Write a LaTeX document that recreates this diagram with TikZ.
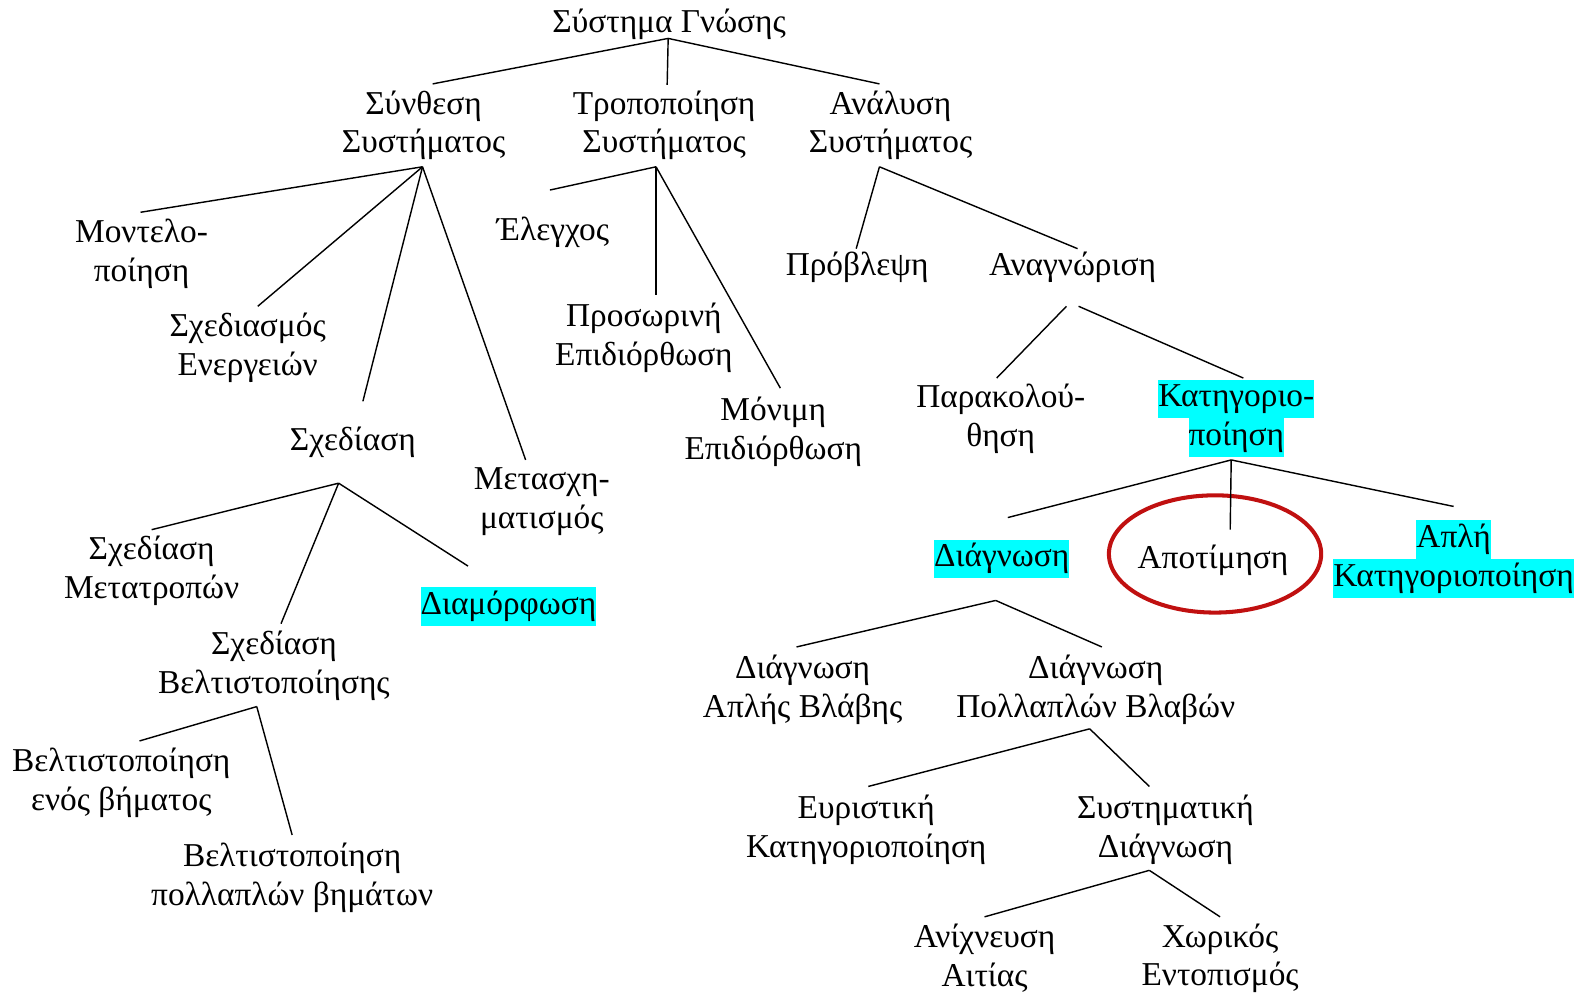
\documentclass[tikz,border=0pt]{standalone}
\usepackage{fontspec}
\setmainfont{Liberation Serif}
\definecolor{hlcyan}{RGB}{0,255,255}
\definecolor{ringred}{RGB}{192,16,16}
\newcommand\hlc[1]{{\setlength{\fboxsep}{0pt}\colorbox{hlcyan}{\strut #1}}}
\begin{document}
\begin{tikzpicture}[x=1pt,y=-1pt,
  lbl/.style={align=center,inner sep=0pt,yshift=-2pt,font=\fontsize{33}{38.5}\selectfont},
  edge/.style={line width=1.4pt,black},
  ring/.style={draw=ringred,line width=4pt}]
\useasboundingbox (0,0) rectangle (1568,985);
% nodes
\node[lbl] (root) at (662,22) {Σύστημα Γνώσης};
\node[lbl] (synth) at (419,122) {Σύνθεση\\Συστήματος};
\node[lbl] (trop) at (657,122) {Τροποποίηση\\Συστήματος};
\node[lbl] (anal) at (881,122) {Ανάλυση\\Συστήματος};
\node[lbl] (model) at (140,249) {Μοντελο-\\ποίηση};
\node[lbl] (sxedm) at (245,342) {Σχεδιασμός\\Ενεργειών};
\node[lbl] (sxed) at (349,436) {Σχεδίαση};
\node[lbl] (metas) at (536,494) {Μετασχη-\\ματισμός};
\node[lbl] (eleg) at (547,228) {Έλεγχος};
\node[lbl] (pros) at (637,332) {Προσωρινή\\Επιδιόρθωση};
\node[lbl] (mon) at (765,425) {Μόνιμη\\Επιδιόρθωση};
\node[lbl] (provl) at (848,262) {Πρόβλεψη};
\node[lbl] (anagn) at (1061,262) {Αναγνώριση};
\node[lbl] (parak) at (990,412) {Παρακολού-\\θηση};
\node[lbl] (kat) at (1223,412) {\hlc{Κατηγοριο-}\\\hlc{ποίηση}};
\node[lbl] (sxmet) at (150,563) {Σχεδίαση\\Μετατροπών};
\node[lbl] (diam) at (503,598) {\hlc{Διαμόρφωση}};
\node[lbl] (sxbelt) at (271,657) {Σχεδίαση\\Βελτιστοποίησης};
\node[lbl] (belt1) at (120,772) {Βελτιστοποίηση\\ενός βήματος};
\node[lbl] (beltn) at (289,866) {Βελτιστοποίηση\\πολλαπλών βημάτων};
\node[lbl] (diagn) at (991,551) {\hlc{Διάγνωση}};
\node[lbl] (apot) at (1200,552) {Αποτίμηση};
\node[lbl] (apli) at (1438,551) {\hlc{Απλή}\\\hlc{Κατηγοριοποίηση}};
\node[lbl] (dapl) at (794,680) {Διάγνωση\\Απλής Βλάβης};
\node[lbl] (dpoll) at (1084,680) {Διάγνωση\\Πολλαπλών Βλαβών};
\node[lbl] (eur) at (857,819) {Ευριστική\\Κατηγοριοποίηση};
\node[lbl] (syst) at (1153,819) {Συστηματική\\Διάγνωση};
\node[lbl] (anix) at (974,946) {Ανίχνευση\\Αιτίας};
\node[lbl] (xor) at (1207,946) {Χωρικός\\Εντοπισμός};
% ring around Αποτίμηση
\draw[ring] (1202,548) ellipse [x radius=105, y radius=58];
% connector points
\coordinate (root-b) at (661,38);
\coordinate (synth-t) at (428,83);
\coordinate (trop-t) at (660,84);
\coordinate (anal-t) at (870,83);
\coordinate (synth-b) at (418,165);
\coordinate (model-t) at (139,210);
\coordinate (sxedm-t) at (255,303);
\coordinate (sxed-t) at (359,397);
\coordinate (metas-t) at (520,455);
\coordinate (trop-b) at (649,165);
\coordinate (eleg-t) at (544,188);
\coordinate (pros-t) at (649,292);
\coordinate (mon-t) at (772,384);
\coordinate (anal-b) at (870,165);
\coordinate (provl-t) at (847,246);
\coordinate (anagn-t) at (1066,246);
\coordinate (anagn-b1) at (1055,303);
\coordinate (anagn-b2) at (1067,303);
\coordinate (parak-t) at (986,374);
\coordinate (kat-t) at (1230,374);
\coordinate (kat-b) at (1218,455);
\coordinate (diagn-t) at (997,512);
\coordinate (apot-t) at (1217,524);
\coordinate (apli-t) at (1438,501);
\coordinate (sxed-b) at (335,478);
\coordinate (sxmet-t) at (150,524);
\coordinate (sxbelt-t) at (278,617);
\coordinate (diam-t) at (463,560);
\coordinate (sxbelt-b) at (254,699);
\coordinate (belt1-t) at (138,733);
\coordinate (beltn-t) at (289,826);
\coordinate (diagn-b) at (985,594);
\coordinate (dapl-t) at (788,640);
\coordinate (dpoll-t) at (1090,640);
\coordinate (dpoll-b) at (1078,721);
\coordinate (eur-t) at (859,778);
\coordinate (syst-t) at (1137,778);
\coordinate (syst-b) at (1137,861);
\coordinate (anix-t) at (974,907);
\coordinate (xor-t) at (1207,907);
% connectors
\draw[edge] (synth-t) -- (root-b) -- (anal-t);
\draw[edge] (root-b) -- (trop-t);
\draw[edge] (synth-b) -- (model-t);
\draw[edge] (synth-b) -- (sxedm-t);
\draw[edge] (synth-b) -- (sxed-t);
\draw[edge] (synth-b) -- (metas-t);
\draw[edge] (trop-b) -- (eleg-t);
\draw[edge] (trop-b) -- (pros-t);
\draw[edge] (trop-b) -- (mon-t);
\draw[edge] (anal-b) -- (provl-t);
\draw[edge] (anal-b) -- (anagn-t);
\draw[edge] (anagn-b1) -- (parak-t);
\draw[edge] (anagn-b2) -- (kat-t);
\draw[edge] (kat-b) -- (diagn-t);
\draw[edge] (kat-b) -- (apot-t);
\draw[edge] (kat-b) -- (apli-t);
\draw[edge] (sxed-b) -- (sxmet-t);
\draw[edge] (sxed-b) -- (sxbelt-t);
\draw[edge] (sxed-b) -- (diam-t);
\draw[edge] (sxbelt-b) -- (belt1-t);
\draw[edge] (sxbelt-b) -- (beltn-t);
\draw[edge] (diagn-b) -- (dapl-t);
\draw[edge] (diagn-b) -- (dpoll-t);
\draw[edge] (dpoll-b) -- (eur-t);
\draw[edge] (dpoll-b) -- (syst-t);
\draw[edge] (syst-b) -- (anix-t);
\draw[edge] (syst-b) -- (xor-t);
\end{tikzpicture}
\end{document}
